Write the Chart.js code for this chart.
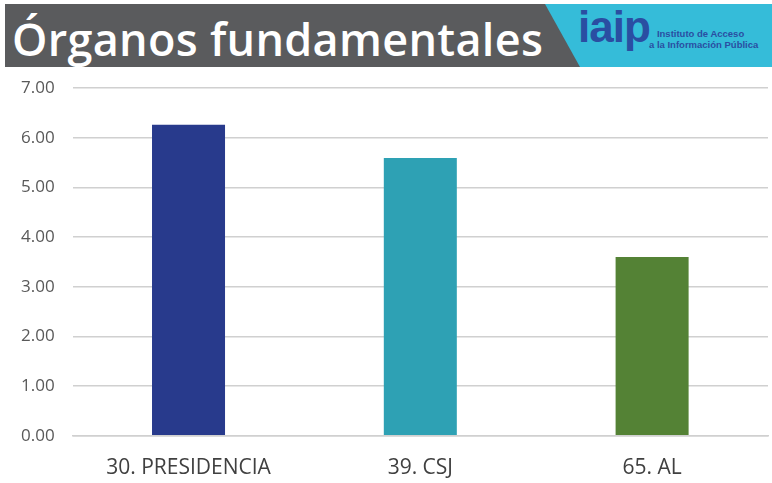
<!DOCTYPE html>
<html>
<head>
<meta charset="utf-8">
<script src="https://cdn.jsdelivr.net/npm/chart.js@4"></script>
<style>
    body { margin: 0; background: #fff; overflow: hidden; }
    #wrap { position: relative; width: 772px; height: 483px; overflow: hidden; }
    #header {
        position: absolute; left: 5px; top: 4px; width: 767px; height: 63px;
        background: #35bcd9; overflow: hidden;
    }
    #dark {
        position: absolute; left: 0; top: 0; width: 580px; height: 63px;
        background: #5a5b5d;
        clip-path: polygon(0 0, 540px 0, 575px 63px, 0 63px);
    }
    #title {
        position: absolute; left: 7px; top: 4px;
        font-family: "Open Sans", sans-serif; font-weight: 600;
        font-size: 45px; letter-spacing: 0.3px; color: #fff; white-space: nowrap;
    }
    #logo {
        position: absolute; left: 573px; top: -2px;
        font-family: "Liberation Sans", Arial, sans-serif; font-weight: bold;
        font-size: 44px; color: #2a4ea2; letter-spacing: -1px;
    }
    #logotext {
        position: absolute; left: 644px; top: 24px;
        font-family: "Liberation Sans", Arial, sans-serif; font-weight: bold;
        font-size: 9.5px; line-height: 11px; color: #2a4ea2;
    }
    canvas { position: absolute; left: 0; top: 0; }
</style>
</head>
<body>
<div id="wrap">
    <canvas id="chart" width="772" height="505"></canvas>
    <div id="header">
        <div id="dark"><div id="title">Órganos fundamentales</div></div>
        <div id="logo">iaip</div>
        <div id="logotext">&nbsp;&nbsp;&nbsp;Instituto de Acceso<br>a la Información Pública</div>
    </div>
</div>
<script>
const categories = ["30. PRESIDENCIA", "39. CSJ", "65. AL"];
const values = [6.26, 5.59, 3.6];
const bar_colors = ["#283a8c", "#2ea1b4", "#548235"];

let ctx = document.getElementById('chart').getContext('2d');
let chart = new Chart(ctx, {
    type: "bar",
    data: {
        labels: categories,
        datasets: [{
            data: values,
            backgroundColor: bar_colors,
            borderWidth: 0
        }]
    },
    options: {
        responsive: false,
        animation: false,
        layout: {
            padding: { top: 88, left: 3, right: 4, bottom: 4 }
        },
        plugins: {
            legend: { display: false },
            tooltip: { enabled: false }
        },
        barPercentage: 0.315,
        categoryPercentage: 1,
        scales: {
            y: {
                min: 0,
                max: 7,
                ticks: {
                    stepSize: 1,
                    padding: 18,
                    color: "#595959",
                    font: { family: "Open Sans", size: 17 },
                    callback: v => v.toFixed(2)
                },
                grid: { color: "#d0d0d0", lineWidth: 1.5, drawTicks: false },
                border: { display: false }
            },
            x: {
                ticks: {
                    color: "#404040",
                    padding: 20,
                    font: { family: "Open Sans", size: 21 }
                },
                grid: { display: false, drawTicks: false },
                border: { color: "#d0d0d0", width: 1.5 }
            }
        }
    }
});
</script>
</body>
</html>
